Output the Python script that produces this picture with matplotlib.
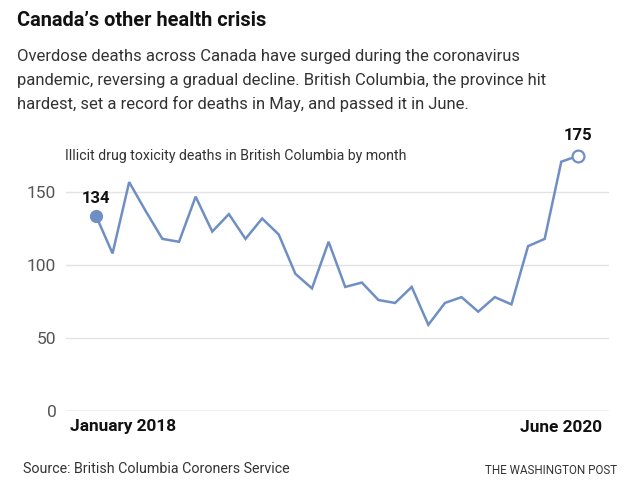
import matplotlib
matplotlib.use("Agg")
import matplotlib.pyplot as plt

months = list(range(30))  # Jan 2018 .. Jun 2020
deaths = [134, 108, 157, 137, 118, 116, 147, 123, 135, 118, 132, 121,
          94, 84, 116, 85, 88, 76, 74, 85, 59, 74, 78, 68, 78, 73,
          113, 118, 171, 175]
yticks = [0, 50, 100, 150]
x_labels = ["January 2018", "June 2020"]

LINE = "#6f8fc4"
plt.rcParams['font.family'] = ['Roboto', 'DejaVu Sans']

fig = plt.figure(figsize=(6.41, 4.88), dpi=100)
W, H = 641, 488

def fx(px):
    return px / W

def fy(py):
    return 1 - py / H

fig.text(fx(17), fy(21), "Canada\u2019s other health crisis", fontsize=14.4,
         fontweight='bold', color='#111111', va='center', ha='left')
sub = ["Overdose deaths across Canada have surged during the coronavirus",
       "pandemic, reversing a gradual decline. British Columbia, the province hit",
       "hardest, set a record for deaths in May, and passed it in June."]
for i, line in enumerate(sub):
    fig.text(fx(17), fy(57 + i * 23.5), line, fontsize=11.95, color='#333333',
             va='center', ha='left')

ax = fig.add_axes([fx(66), fy(410.7), fx(609) - fx(66), (410.7 - 148.6) / H])
ax.set_xlim(-1.8, 30.87)
ax.set_ylim(0, 180)
for v in yticks:
    ax.axhline(v, color='#bbbbbb' if v == 0 else '#e3e3e3', lw=1.0, zorder=1)
ax.plot(months, deaths, color=LINE, lw=1.8, zorder=3, solid_joinstyle='miter')
ax.plot(months[0], deaths[0], 'o', ms=8.5, color=LINE, zorder=4)
ax.plot(months[-1], deaths[-1], 'o', ms=8.5, mfc='white', mec=LINE, mew=1.6, zorder=4)
ax.annotate(str(deaths[0]), (months[0], deaths[0]), xytext=(0, 7),
            textcoords='offset points', ha='center', va='bottom',
            fontsize=12, fontweight='bold', color='#111111')
ax.annotate(str(deaths[-1]), (months[-1], deaths[-1]), xytext=(0, 9.5),
            textcoords='offset points', ha='center', va='bottom',
            fontsize=12, fontweight='bold', color='#111111')
for s in ax.spines.values():
    s.set_visible(False)
ax.set_xticks([])
ax.set_yticks(yticks)
ax.set_yticklabels([str(v) for v in yticks], fontsize=12.5, color='#555555')
ax.tick_params(axis='y', length=0, pad=7)

fig.text(fx(65), fy(156), "Illicit drug toxicity deaths in British Columbia by month",
         fontsize=10.2, color='#333333', va='center', ha='left')
fig.text(fx(70), fy(427), x_labels[0], fontsize=12.4, fontweight='bold',
         color='#111111', va='center', ha='left')
fig.text(fx(602), fy(427), x_labels[1], fontsize=12.4, fontweight='bold',
         color='#111111', va='center', ha='right')
fig.text(fx(23), fy(469), "Source: British Columbia Coroners Service", fontsize=10.3,
         color='#333333', va='center', ha='left')
fig.text(fx(617), fy(470), "THE WASHINGTON POST", fontsize=8.4,
         color='#333333', va='center', ha='right')

fig.savefig("out.png", dpi=100)
